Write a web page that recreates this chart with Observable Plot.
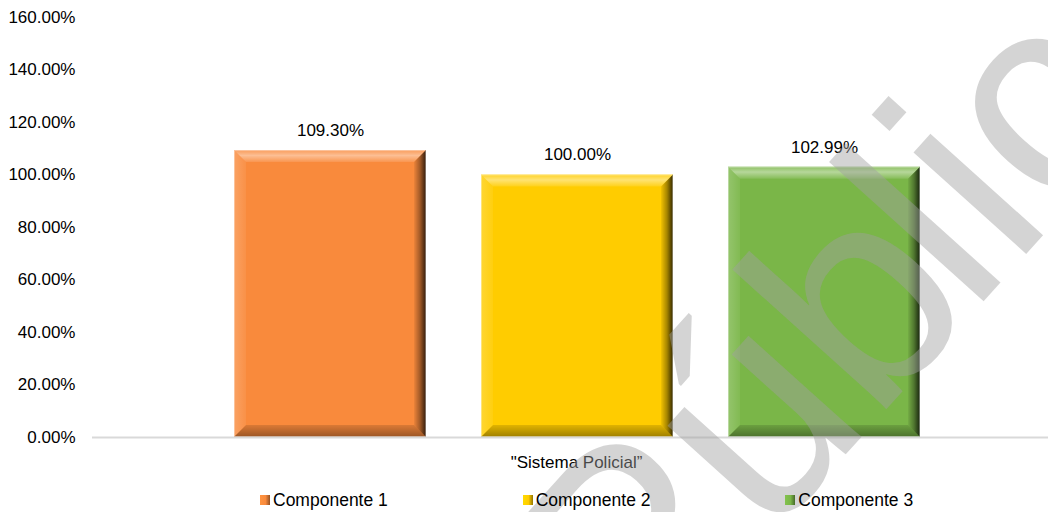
<!DOCTYPE html>
<html>
<head>
<meta charset="utf-8">
<script src="https://cdn.jsdelivr.net/npm/d3@7"></script>
<script src="https://cdn.jsdelivr.net/npm/@observablehq/plot@0.6"></script>
<style>
  html, body { margin: 0; padding: 0; background: #fff; }
  #wrap { position: relative; width: 1048px; height: 512px; overflow: hidden; font-family: "Liberation Sans", Arial, sans-serif; }
  #chart svg { display: block; }
  #watermark { position: absolute; left: 0; top: 0; pointer-events: none; z-index: 2; }
  #legend { position: relative; z-index: 3; height: 32px; margin-top: 4px; display: flex; align-items: center; padding-left: 260px; font-size: 17.5px; color: #000; }
  #legend .item { width: 267.5px; display: flex; align-items: center; white-space: nowrap; }
  #legend .sw { width: 10px; height: 10px; margin-right: 3px; }
</style>
</head>
<body>
<div id="wrap">
  <div id="chart"></div>
  <div id="legend"></div>
</div>
<script>
// ---- data ----
const categories = ["Sistema Policial"];
const components = ["Componente 1", "Componente 2", "Componente 3"];
const values = [109.30, 100.00, 102.99];
const colors = ["#F98A3C", "#FFCC00", "#7AB648"];
const yTicks = [0, 20, 40, 60, 80, 100, 120, 140, 160];
const categoryLabel = "\"Sistema Policial\u201D";
const watermarkText = "Público";

const data = components.map((c, i) => ({group: categories[0], comp: c, value: values[i]}));
const fmt = d => d.toFixed(2) + "%";

const plot = Plot.plot({
  width: 1048,
  height: 480,
  marginLeft: 92,
  marginRight: 0,
  marginTop: 17,
  marginBottom: 43,
  style: {fontFamily: "Liberation Sans, Arial, sans-serif", fontSize: "17px", color: "#000", background: "#fff"},
  fx: {domain: categories, label: null, padding: 0},
  x: {domain: components, paddingInner: 0.224, paddingOuter: 0, insetLeft: 141, insetRight: 128, axis: null},
  y: {domain: [0, 160], label: null},
  color: {domain: components, range: colors},
  marks: [
    Plot.axisY({ticks: yTicks, tickFormat: fmt, tickSize: 0, tickPadding: 17, fontSize: 17, label: null}),
    Plot.axisFx({anchor: "bottom", tickSize: 0, tickPadding: 18, fontSize: 17, label: null, dx: 6, tickFormat: () => categoryLabel}),
    Plot.barY(data, {fx: "group", x: "comp", y: "value", fill: "comp"}),
    Plot.ruleY([0], {stroke: "#d9d9d9", strokeWidth: 2}),
    Plot.text(data, {fx: "group", x: "comp", y: "value", text: d => fmt(d.value), dy: -20, fontSize: 17, fill: "#000"})
  ]
});

document.getElementById("chart").appendChild(plot);

// ---- bevel effect on bars ----
const svg = d3.select(plot);
const defs = svg.insert("defs", ":first-child");
function grad(id, x2, y2, stops) {
  const g = defs.append("linearGradient").attr("id", id).attr("x1", 0).attr("y1", 0).attr("x2", x2).attr("y2", y2);
  stops.forEach(([o, c, a]) => g.append("stop").attr("offset", o).attr("stop-color", c).attr("stop-opacity", a));
}
grad("bvTop", 0, 1, [[0, "#fff", 0.15], [0.45, "#fff", 0.45], [1, "#fff", 0.1]]);
grad("bvBot", 0, 1, [[0, "#000", 0.12], [1, "#000", 0.38]]);
grad("bvRight", 1, 0, [[0, "#000", 0.05], [0.5, "#000", 0.35], [1, "#000", 0.8]]);
grad("bvLeft", 1, 0, [[0, "#fff", 0.2], [1, "#fff", 0.06]]);

svg.selectAll('g[aria-label="bar"] rect').each(function() {
  const x = +this.getAttribute("x"), y = +this.getAttribute("y");
  const w = +this.getAttribute("width"), h = +this.getAttribute("height");
  const b = 12;
  const p = d3.select(this.parentNode);
  const poly = (pts, fill) => p.append("polygon").attr("points", pts.map(q => q.join(",")).join(" ")).attr("fill", fill);
  poly([[x, y], [x + b, y + b], [x + b, y + h - b], [x, y + h]], "url(#bvLeft)");
  poly([[x, y + h], [x + w, y + h], [x + w - b, y + h - b], [x + b, y + h - b]], "url(#bvBot)");
  poly([[x, y], [x + w, y], [x + w - b, y + b], [x + b, y + b]], "url(#bvTop)");
  poly([[x + w, y], [x + w - b, y + b], [x + w - b, y + h - b], [x + w, y + h]], "url(#bvRight)");
  p.append("rect").attr("x", x + 0.5).attr("y", y + 0.5).attr("width", w - 1).attr("height", h - 1)
    .attr("fill", "none").attr("stroke", "#fff").attr("stroke-opacity", 0.35);
});

// ---- legend ----
const legend = d3.select("#legend");
components.forEach((c, i) => {
  const it = legend.append("div").attr("class", "item");
  it.append("div").attr("class", "sw")
    .style("background", `linear-gradient(90deg, ${d3.color(colors[i]).brighter(0.2)} 0%, ${colors[i]} 55%, ${d3.color(colors[i]).darker(1.5)} 100%)`);
  it.append("span").text(c);
});

// ---- watermark overlay ----
const wm = d3.select("#wrap").append("svg").attr("id", "watermark").attr("width", 1048).attr("height", 512);
wm.append("text")
  .attr("transform", "translate(639,684) rotate(-48)")
  .attr("dx", "0 0 0 -15")
  .attr("font-family", "Liberation Sans, Arial, sans-serif")
  .attr("font-size", 287)
  .attr("fill", "rgb(160,160,160)")
  .attr("fill-opacity", 0.45)
  .text(watermarkText);
</script>
</body>
</html>
